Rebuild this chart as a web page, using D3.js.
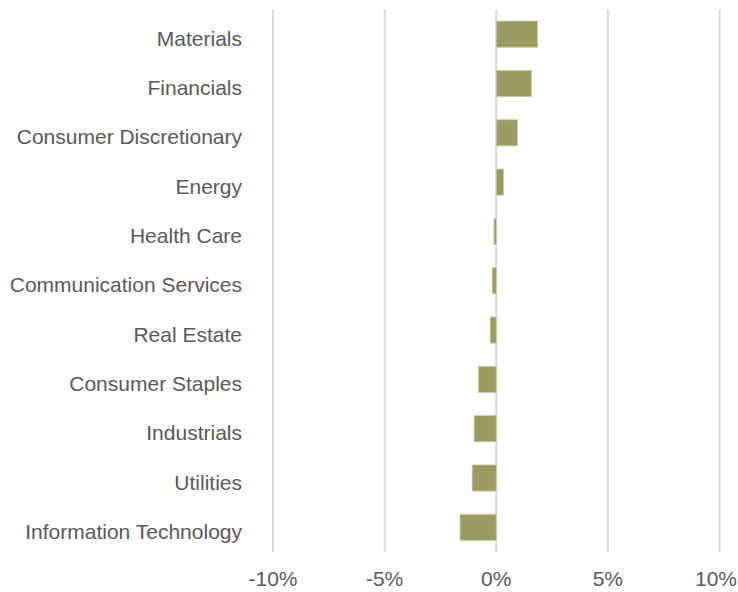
<!DOCTYPE html>
<html>
<head>
<meta charset="utf-8">
<script src="https://cdn.jsdelivr.net/npm/d3@7"></script>
<style>
  body { margin: 0; background: #fff; }
  svg { display: block; }
</style>
</head>
<body>
<svg id="chart" width="738" height="592"></svg>
<script>
var sectors = ['Materials', 'Financials', 'Consumer Discretionary', 'Energy', 'Health Care',
	'Communication Services', 'Real Estate', 'Consumer Staples', 'Industrials', 'Utilities',
	'Information Technology'];
var values = [1.85, 1.58, 0.95, 0.33, -0.1, -0.18, -0.27, -0.8, -0.99, -1.08, -1.62];
var tickVals = [-10, -5, 0, 5, 10];

var svg = d3.select('#chart');
var margin = {top: 9.5, left: 273, right: 18.5, bottom: 40};
var width = 738, height = 592;
var fontFam = 'Liberation Sans, Arial, sans-serif';

var x = d3.scaleLinear()
	.domain([-10, 10])
	.range([margin.left, width - margin.right]);

var y = d3.scaleBand()
	.domain(sectors)
	.range([margin.top, height - margin.bottom])
	.paddingInner(0.47)
	.paddingOuter(0.235);

// gridlines
svg.append('g')
	.selectAll('line')
	.data(tickVals)
	.enter()
	.append('line')
	.attr('x1', d => x(d))
	.attr('x2', d => x(d))
	.attr('y1', margin.top)
	.attr('y2', height - margin.bottom)
	.attr('stroke', '#d9d9d9')
	.attr('stroke-width', 2);

// bars
svg.append('g')
	.selectAll('rect')
	.data(values)
	.enter()
	.append('rect')
	.attr('x', d => x(Math.min(0, d)))
	.attr('y', (d, i) => y(sectors[i]))
	.attr('width', d => Math.abs(x(d) - x(0)))
	.attr('height', y.bandwidth())
	.attr('fill', '#9a9c64')
	.attr('stroke', '#c9cba6')
	.attr('stroke-width', 0.8);

// category labels
svg.append('g')
	.selectAll('text')
	.data(sectors)
	.enter()
	.append('text')
	.text(d => d)
	.attr('x', 242)
	.attr('y', d => y(d) + y.bandwidth() / 2 + 11.5)
	.attr('text-anchor', 'end')
	.attr('font-family', fontFam)
	.attr('font-size', 21)
	.attr('fill', '#595959');

// x tick labels (last one kept inside the window)
svg.append('g')
	.selectAll('text')
	.data(tickVals)
	.enter()
	.append('text')
	.text(d => d + '%')
	.attr('x', d => d === 10 ? width - 1 : x(d))
	.attr('y', 586)
	.attr('text-anchor', d => d === 10 ? 'end' : 'middle')
	.attr('font-family', fontFam)
	.attr('font-size', 21)
	.attr('fill', '#595959');
</script>
</body>
</html>
